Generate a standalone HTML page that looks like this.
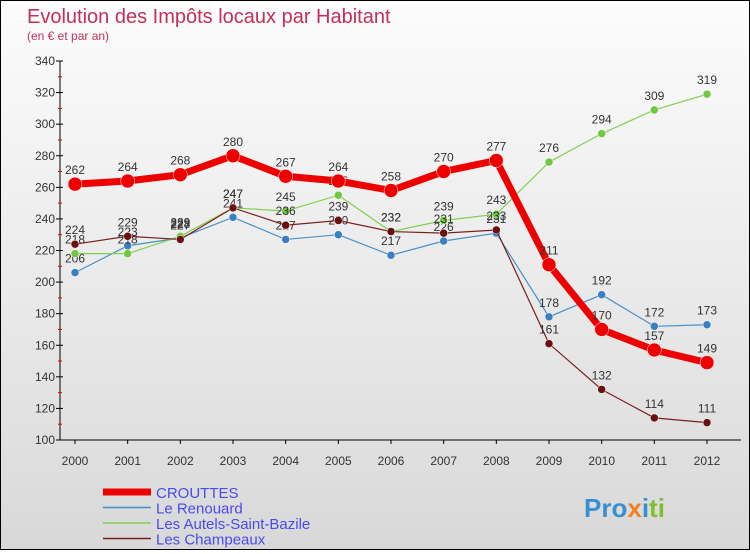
<!DOCTYPE html>
<html><head><meta charset="utf-8"><style>
body{margin:0;width:750px;height:550px;overflow:hidden;font-family:"Liberation Sans",sans-serif}
#wrap{position:relative;width:748px;height:548px;border:1px solid #000;background:linear-gradient(#fcfcfc,#e0e0e0 80%,#d8d8d8)}
</style></head><body>
<div id="wrap">
<svg id="chart" width="748" height="548">
<text x="26" y="22" font-size="20" fill="#c0305a">Evolution des Impôts locaux par Habitant</text>
<text x="26" y="39" font-size="12" fill="#c0305a">(en € et par an)</text>
<g id="axes"></g><g id="series"></g><g id="legend"></g>
<text x="583" y="516" font-size="26" font-weight="bold" fill="#3a8fd0">Pro<tspan fill="#f08020">x</tspan><tspan fill="#3a8fd0">i</tspan><tspan fill="#80c030">ti</tspan></text>
</svg></div>
<script>
const years=[2000,2001,2002,2003,2004,2005,2006,2007,2008,2009,2010,2011,2012];
const yTicks=[100,120,140,160,180,200,220,240,260,280,300,320,340];
const crouttes=[262,264,268,280,267,264,258,270,277,211,170,157,149];
const renouard=[206,223,228,241,227,230,217,226,231,178,192,172,173];
const autels=[218,218,229,247,245,255,232,239,243,276,294,309,319];
const champeaux=[224,229,227,247,236,239,232,231,233,161,132,114,111];
const seriesNames=["CROUTTES","Le Renouard","Les Autels-Saint-Bazile","Les Champeaux"];
const NS="http://www.w3.org/2000/svg";
const X=i=>74+i*(706-74)/(years.length-1);
const Y=v=>439-(v-100)*379/240;
function mk(t,a,p){const e=document.createElementNS(NS,t);for(const k in a)e.setAttribute(k,a[k]);p.appendChild(e);return e;}
const ax=document.getElementById('axes');
const yl=mk('line',{x1:59,y1:Y(340),x2:59,y2:Y(100),stroke:'#000'},ax);


const xl=mk('line',{x1:59,y1:Y(100),x2:740,y2:Y(100),stroke:'#000'},ax);


yTicks.forEach((v,i)=>{
 mk('line',{x1:55,x2:62,y1:Y(v),y2:Y(v),stroke:'#000'},ax);
 if(i<yTicks.length-1)mk('line',{x1:57,x2:61,y1:Y(v+10),y2:Y(v+10),stroke:'#e00'},ax);
 const t=mk('text',{x:54,y:Y(v)+4,'font-size':12,'text-anchor':'end',fill:'#333'},ax);t.textContent=v;
 
 
});
years.forEach((y,i)=>{
 mk('line',{x1:X(i),x2:X(i),y1:Y(100),y2:Y(100)+4,stroke:'#000'},ax);
 const t=mk('text',{x:X(i),y:Y(100)+25,'font-size':12,'text-anchor':'middle',fill:'#333'},ax);t.textContent=y;
 
 
});
const sg=document.getElementById('series');
const defs=[[renouard,'#4a90c8','#3a80c0',1.2,4,'renouard'],[autels,'#80d050','#70c840',1.2,4,'autels'],[champeaux,'#7a2020','#6a1010',1.2,4,'champeaux'],[crouttes,'#ee0000','#ee0000',7,7,'crouttes']];
defs.forEach(([d,c,dc,w,r,n])=>{
 const p=mk('polyline',{points:d.map((v,i)=>X(i)+','+Y(v)).join(' '),fill:'none',stroke:c,'stroke-width':w},sg);
 
 
 d.forEach((v,i)=>{
  const c2=mk('circle',{cx:X(i),cy:Y(v),r:r,fill:dc,stroke:'#fff','stroke-width':0.5},sg);
  
  
  const t=mk('text',{x:X(i),y:Y(v)-10,'font-size':12,'text-anchor':'middle',fill:'#333'},sg);t.textContent=v;
  
  
 });
});
const lg=document.getElementById('legend');
const lc=['#ee0000','#4a90c8','#80d050','#7a2020'],lw=[7,1.5,1.5,1.5];
seriesNames.forEach((s,i)=>{
 const yy=491+i*15.5;
 const l=mk('line',{x1:102,x2:150,y1:yy,y2:yy,stroke:lc[i],'stroke-width':lw[i]},lg);
 
 
 const t=mk('text',{x:155,y:yy+6,'font-size':15,fill:'#4a4aee'},lg);t.textContent=s;
 
 
});
</script>
</body></html>
